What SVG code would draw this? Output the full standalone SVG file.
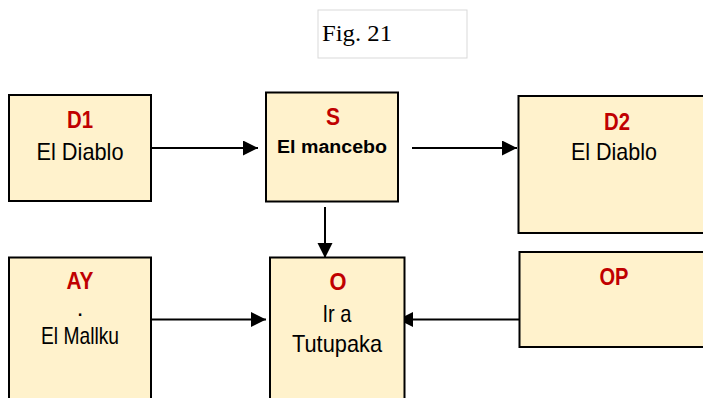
<svg xmlns="http://www.w3.org/2000/svg" width="703" height="398" viewBox="0 0 703 398">
<defs>
<style>
.box{fill:#fff2cc;stroke:#000;stroke-width:2}
.lbl{font-family:"Liberation Sans",Arial,sans-serif;font-weight:bold;font-size:23px;fill:#c00000;text-anchor:middle}
.txt{font-family:"Liberation Sans",Arial,sans-serif;font-size:24px;fill:#000;text-anchor:middle}
.edge{stroke:#000;stroke-width:2;fill:none;marker-end:url(#ah)}
</style>
<marker id="ah" markerUnits="userSpaceOnUse" markerWidth="16" markerHeight="16" refX="15" refY="7.5" orient="auto">
<path d="M0,0 L15,7.5 L0,15 z" fill="#000"/>
</marker>
</defs>
<g id="fig">
<rect x="318" y="10" width="149" height="48" fill="#fff" stroke="#d9d9d9" stroke-width="1"/>
<text x="322" y="41" font-family="'Liberation Serif','Times New Roman',serif" font-size="24" fill="#000" textLength="70" lengthAdjust="spacingAndGlyphs">Fig. 21</text>
</g>
<g id="connectors">
<line class="edge" x1="151" y1="148" x2="258" y2="148"/>
<line class="edge" x1="412" y1="148" x2="517" y2="148"/>
<line class="edge" x1="325" y1="207" x2="325" y2="258"/>
<line class="edge" x1="151" y1="319.5" x2="266" y2="319.5"/>
<line class="edge" x1="519" y1="319.5" x2="398" y2="319.5"/>
</g>
<g id="D1">
<rect class="box" x="9" y="95" width="142" height="106"/>
<text class="lbl" x="80" y="128" textLength="26" lengthAdjust="spacingAndGlyphs">D1</text>
<text class="txt" x="80" y="159.5" font-size="24.5" textLength="87" lengthAdjust="spacingAndGlyphs">El Diablo</text>
</g>
<g id="S">
<rect class="box" x="266" y="92.5" width="132" height="109"/>
<text class="lbl" x="333" y="125" textLength="14" lengthAdjust="spacingAndGlyphs">S</text>
<text x="332" y="153" font-family="'Liberation Sans',Arial,sans-serif" font-weight="bold" font-size="18" text-anchor="middle" textLength="110" lengthAdjust="spacingAndGlyphs">El mancebo</text>
</g>
<g id="D2">
<rect class="box" x="518.5" y="96" width="200" height="137"/>
<text class="lbl" x="617" y="130" textLength="26" lengthAdjust="spacingAndGlyphs">D2</text>
<text class="txt" x="614" y="160" font-size="23.5" textLength="86" lengthAdjust="spacingAndGlyphs">El Diablo</text>
</g>
<g id="AY">
<rect class="box" x="9" y="257.5" width="142" height="200"/>
<text class="lbl" x="80" y="288.5" font-size="21" textLength="27" lengthAdjust="spacingAndGlyphs">AY</text>
<text class="txt" x="80" y="316" font-size="20">.</text>
<text class="txt" x="80" y="344" font-size="20" textLength="78" lengthAdjust="spacingAndGlyphs">El Mallku</text>
</g>
<g id="O">
<rect class="box" x="270" y="257.5" width="134.5" height="200"/>
<text class="lbl" x="338" y="289.5" font-size="20" textLength="17" lengthAdjust="spacingAndGlyphs">O</text>
<text class="txt" x="337" y="321.5" font-size="24.5" textLength="29" lengthAdjust="spacingAndGlyphs">Ir a</text>
<text class="txt" x="337" y="352" font-size="24.5" textLength="90" lengthAdjust="spacingAndGlyphs">Tutupaka</text>
</g>
<g id="OP">
<rect class="box" x="519.5" y="252" width="200" height="95"/>
<text class="lbl" x="614" y="285" textLength="29" lengthAdjust="spacingAndGlyphs">OP</text>
</g>
</svg>
